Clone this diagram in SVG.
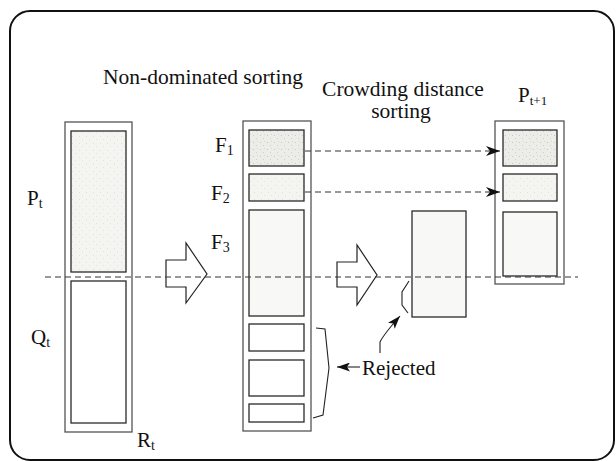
<svg xmlns="http://www.w3.org/2000/svg" width="616" height="461" viewBox="0 0 616 461">
<style>
.col{fill:#fff;stroke:#555;stroke-width:1.3}
.box{stroke:#2a2a2a;stroke-width:1.3}
.dash{fill:none;stroke:#333;stroke-width:1.2;stroke-dasharray:6 4}
.ln{fill:none;stroke:#222;stroke-width:1.1}
.fat{fill:#fff;stroke:#222;stroke-width:1.2;stroke-linejoin:miter}
</style>
<defs>
<pattern id="stip" width="7" height="7" patternUnits="userSpaceOnUse">
<rect width="7" height="7" fill="#ecece8"/>
<rect x="1" y="2" width="1" height="1" fill="#c8c8c0"/>
<rect x="4" y="5" width="1" height="1" fill="#d0d0c4"/>
<rect x="5" y="1" width="1" height="1" fill="#d8d8cc"/>
</pattern>
<pattern id="stip2" width="7" height="7" patternUnits="userSpaceOnUse">
<rect width="7" height="7" fill="#f4f4f1"/>
<rect x="2" y="3" width="1" height="1" fill="#e0e0d8"/>
<rect x="5" y="6" width="1" height="1" fill="#e4e4dc"/>
</pattern>
<marker id="stealth" viewBox="0 0 14 10" refX="14" refY="5" markerWidth="14" markerHeight="10" markerUnits="userSpaceOnUse" orient="auto">
<path d="M0,0 L14,5 L0,10 L4,5 Z" fill="#111"/>
</marker>
<marker id="head" viewBox="0 0 13 9" refX="13" refY="4.5" markerWidth="13" markerHeight="9" markerUnits="userSpaceOnUse" orient="auto">
<path d="M0,0 L13,4.5 L0,9 L3,4.5 Z" fill="#111"/>
</marker>
</defs>

<rect x="10" y="11" width="604" height="449" rx="20" ry="20" fill="#fff" stroke="#111" stroke-width="2"/>

<g id="titles">
<text x="103" y="84" font-family="Liberation Serif" font-size="21.5" fill="#111">Non-dominated sorting</text>
<text x="403" y="96" text-anchor="middle" font-family="Liberation Serif" font-size="21.5" fill="#111">Crowding distance</text>
<text x="401" y="118" text-anchor="middle" font-family="Liberation Serif" font-size="21.5" fill="#111">sorting</text>
</g>

<g id="Rt">
<rect class="col" x="65" y="122" width="67" height="310"/>
<rect class="box" x="71" y="131" width="55" height="141" fill="url(#stip2)"/>
<rect class="box" x="71" y="281" width="55" height="142" fill="#fff"/>
<text x="27" y="205" font-family="Liberation Serif" font-size="21" fill="#111">P<tspan font-size="14" dy="3">t</tspan></text>
<text x="31" y="344" font-family="Liberation Serif" font-size="21" fill="#111">Q<tspan font-size="14" dy="3">t</tspan></text>
<text x="137" y="447" font-family="Liberation Serif" font-size="21" fill="#111">R<tspan font-size="14" dy="3">t</tspan></text>
</g>

<g id="arrow1">
<path class="fat" d="M166,260 L186,260 L186,243 L207,274 L186,303 L186,287 L166,287 Z"/>
</g>

<g id="fronts">
<rect class="col" x="243" y="121" width="68" height="310"/>
<rect class="box" x="249" y="130" width="55" height="36" fill="url(#stip)"/>
<rect class="box" x="249" y="174" width="55" height="27" fill="url(#stip2)"/>
<rect class="box" x="249" y="210" width="55" height="106" fill="#f8f8f6"/>
<rect class="box" x="249" y="324" width="55" height="27" fill="#fff"/>
<rect class="box" x="249" y="360" width="55" height="36" fill="#fff"/>
<rect class="box" x="249" y="404" width="55" height="18" fill="#fff"/>
<text x="215" y="152" font-family="Liberation Serif" font-size="21" fill="#111">F<tspan font-size="14" dy="3">1</tspan></text>
<text x="211" y="200" font-family="Liberation Serif" font-size="21" fill="#111">F<tspan font-size="14" dy="3">2</tspan></text>
<text x="211" y="249" font-family="Liberation Serif" font-size="21" fill="#111">F<tspan font-size="14" dy="3">3</tspan></text>
</g>

<g id="arrow2">
<path class="fat" d="M337,262 L357,262 L357,245 L377,275 L357,305 L357,287 L337,287 Z"/>
</g>

<g id="crowding">
<rect class="box" x="412" y="211" width="54" height="106" fill="#f8f8f6"/>
</g>

<g id="Pt1">
<rect class="col" x="495" y="121" width="69" height="163"/>
<rect class="box" x="503" y="130" width="54" height="36" fill="url(#stip)"/>
<rect class="box" x="503" y="174" width="54" height="27" fill="url(#stip2)"/>
<rect class="box" x="503" y="212" width="54" height="64" fill="#f8f8f6"/>
<text x="518" y="102" font-family="Liberation Serif" font-size="21" fill="#111">P<tspan font-size="13" dy="3">t+1</tspan></text>
</g>

<g id="rejected">
<text x="362" y="375" font-family="Liberation Serif" font-size="21" fill="#111">Rejected</text>
</g>

<g id="connectors">
<line class="dash" x1="45" y1="277" x2="578" y2="277"/>
<line class="dash" x1="305" y1="151" x2="500" y2="151" marker-end="url(#stealth)"/>
<line class="dash" x1="305" y1="192" x2="500" y2="192" marker-end="url(#stealth)"/>
<path class="ln" d="M316,328 L325,329 L329,368 L323,415 L313,418"/>
<line class="ln" x1="360" y1="367" x2="337" y2="367" marker-end="url(#head)"/>
<path class="ln" d="M409,281 L402,292 L402,305 L408,313"/>
<path class="ln" d="M380,353 L380,342 Q384,334 400,316" marker-end="url(#head)"/>
</g>
</svg>
